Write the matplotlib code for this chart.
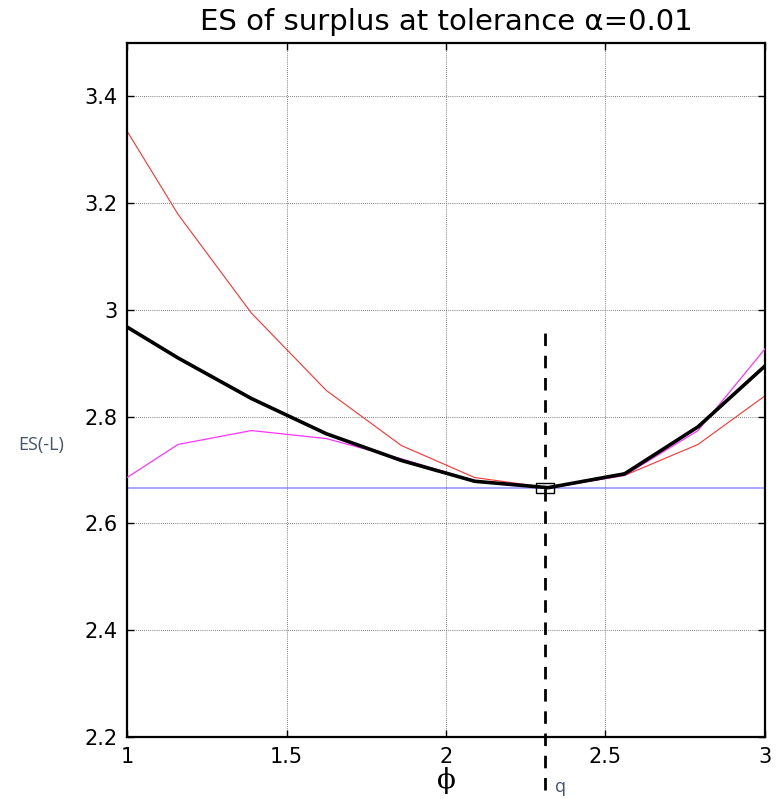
import matplotlib
matplotlib.use("Agg")
import matplotlib.pyplot as plt

# phi grid and ES curves
phi = [1.0, 1.16, 1.39, 1.625, 1.86, 2.09, 2.32, 2.56, 2.79, 3.0]
es_red = [3.335, 3.179, 2.994, 2.849, 2.746, 2.686, 2.667, 2.690, 2.748, 2.839]
es_black = [2.968, 2.910, 2.834, 2.768, 2.718, 2.679, 2.667, 2.693, 2.781, 2.895]
es_magenta = [2.686, 2.748, 2.774, 2.759, 2.721, 2.680, 2.666, 2.690, 2.774, 2.927]
es_min = 2.666
phi_q = 2.31
q_line = [2.10, 2.96]

xticks = [1, 1.5, 2, 2.5, 3]
yticks = [2.2, 2.4, 2.6, 2.8, 3.0, 3.2, 3.4]
yticklabels = ["2.2", "2.4", "2.6", "2.8", "3", "3.2", "3.4"]

plt.rcParams["font.family"] = ["DejaVu Sans"]

fig = plt.figure(figsize=(7.76, 7.99), dpi=100)
ax = fig.add_axes([0.1637, 0.0776, 0.8221, 0.8686])

ax.axhline(es_min, color="#a0a0ff", lw=1.3, zorder=1)
ax.plot(phi, es_red, color="#ff3030", lw=0.8, zorder=2)
ax.plot(phi, es_magenta, color="#ff33ff", lw=0.9, zorder=3)
ax.plot(phi, es_black, color="black", lw=2.6, zorder=4)
ax.plot([phi_q, phi_q], q_line, color="black", lw=2, ls=(0, (4.5, 3.5)),
        clip_on=False, zorder=5)
rect = [(-1, -0.6), (1, -0.6), (1, 0.6), (-1, 0.6), (-1, -0.6)]
ax.plot([phi_q], [es_min], marker=rect, ms=13, mfc="none", mec="black",
        mew=1.0, ls="none", zorder=6)

ax.set_xlim(1, 3)
ax.set_ylim(2.2, 3.5)
ax.set_xticks(xticks)
ax.set_xticklabels(["1", "1.5", "2", "2.5", "3"])
ax.set_yticks(yticks)
ax.set_yticklabels(yticklabels)
ax.tick_params(direction="in", length=5, width=1, top=True, right=True,
               labelsize=15, pad=7)
ax.grid(True, color="#555555", ls=(0, (1, 1.5)), lw=0.6)
for s in ax.spines.values():
    s.set_linewidth(1.6)
    s.set_color("black")

ax.set_title("ES of surplus at tolerance α=0.01", fontsize=21, pad=9)
ax.set_xlabel("ϕ", fontsize=20, family="DejaVu Serif", labelpad=0)

fig.text(0.053, 0.443, "ES(-L)", color="#44546a", fontsize=13,
         family="Open Sans", ha="center", va="center")
fig.text(0.722, 0.004, "q", color="#44546a", fontsize=13,
         family="Open Sans", ha="center", va="bottom")

fig.savefig("out.png", dpi=100)
